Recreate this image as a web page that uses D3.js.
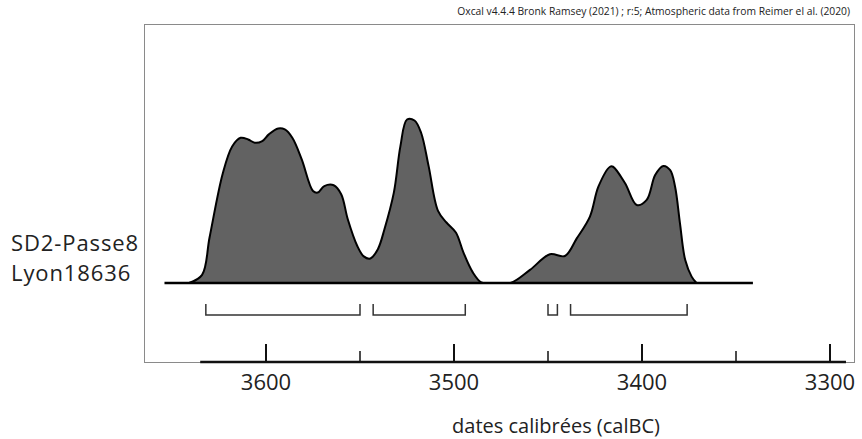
<!DOCTYPE html>
<html>
<head>
<meta charset="utf-8">
<script src="https://cdn.jsdelivr.net/npm/d3@7"></script>
<style>
  html, body { margin: 0; padding: 0; background: #fff; }
  svg { display: block; }
  text { font-family: "Open Sans", "Noto Sans", sans-serif; fill: #222; }
</style>
</head>
<body>
<svg id="chart" width="862" height="439"></svg>
<script>
// ---- data (calendar years BC and relative probability) ----
const years = [3641, 3634, 3630, 3623, 3618, 3613.5, 3609.5, 3606, 3602, 3598.5, 3593.5, 3590, 3586, 3581, 3575, 3572.5, 3569, 3564, 3560, 3556.5, 3551.5, 3548, 3544.5, 3540.5, 3537, 3532, 3528.5, 3525, 3521, 3517.5, 3513.5, 3508.5, 3504, 3499, 3495, 3490, 3485.5, 3481,
               3470, 3459.6, 3449, 3441, 3434.7, 3427.7, 3423.2, 3417, 3415.4, 3409, 3402.8, 3397.5, 3393, 3388.7, 3385, 3382.4, 3379.8, 3377, 3373.6, 3371];
const probability = [0, 5, 28, 67, 83.5, 88.8, 87.8, 85.8, 86.8, 90.9, 94.5, 93.9, 88.8, 75.6, 56.3, 55.3, 59.3, 59.8, 54.3, 39, 22.8, 16.3, 15, 20.7, 32.9, 55.3, 83.7, 100, 99.4, 91.9, 71.5, 44.1, 37, 30.9, 18.7, 6.5, 0.4, 0,
                     0, 8, 17.6, 16.5, 27.3, 40.6, 58.9, 71.1, 71.1, 61, 47.7, 50.8, 66, 71.6, 69, 58.9, 36.5, 14, 3.9, 0];
const rangeStarts = [3632, 3543, 3450, 3438];
const rangeEnds   = [3550, 3494, 3445, 3376];
const majorTicks = [3600, 3500, 3400, 3300];
const minorTicks = [3550, 3450, 3350];
const sampleLabels = ["SD2-Passe8", "Lyon18636"];
const baselineExtent = [3654, 3341];
const axisExtent = [3635, 3291.5];
const creditText = "Oxcal v4.4.4 Bronk Ramsey (2021) ; r:5; Atmospheric data from Reimer el al. (2020)";
const axisTitle = "dates calibrées (calBC)";

const svg = d3.select("#chart");

const x = d3.scaleLinear().domain([3600, 3300]).range([266, 830]);
const y = d3.scaleLinear().domain([0, 100]).range([283, 119.5]);

// clip so the smoothed curve never dips under the baseline
svg.append("defs").append("clipPath").attr("id", "above")
  .append("rect").attr("x", 0).attr("y", 0)
  .attr("width", 862).attr("height", y(0));

// frame
svg.append("rect")
  .attr("x", 144.5).attr("y", 24.5)
  .attr("width", 710).attr("height", 338)
  .attr("fill", "none").attr("stroke", "#8a8a8a").attr("stroke-width", 1);

// credit
svg.append("text")
  .attr("x", 850).attr("y", 15)
  .attr("text-anchor", "end")
  .style("font-size", "10.3px")
  .text(creditText);

// density
const pts = years.map((yr, i) => ({ yr, p: probability[i] }));
const curve = d3.curveCatmullRom.alpha(0.5);
const area = d3.area()
  .x(d => x(d.yr)).y0(y(0)).y1(d => y(d.p))
  .curve(curve);
const line = d3.line()
  .x(d => x(d.yr)).y(d => y(d.p))
  .curve(curve);

const dens = svg.append("g").attr("clip-path", "url(#above)");
dens.append("path").datum(pts)
  .attr("d", area)
  .attr("fill", "#626262");
dens.append("path").datum(pts)
  .attr("d", line)
  .attr("fill", "none").attr("stroke", "#000").attr("stroke-width", 2)
  .attr("stroke-linejoin", "round");

// baseline
svg.append("line")
  .attr("x1", x(baselineExtent[0])).attr("x2", x(baselineExtent[1]))
  .attr("y1", y(0)).attr("y2", y(0))
  .attr("stroke", "#000").attr("stroke-width", 2.5);

// range brackets
const bTop = 304, bBot = 315;
rangeStarts.forEach((s, i) => {
  const x1 = x(s), x2 = x(rangeEnds[i]);
  svg.append("path")
    .attr("d", `M${x1},${bTop}V${bBot}H${x2}V${bTop}`)
    .attr("fill", "none").attr("stroke", "#333").attr("stroke-width", 1.5);
});

// axis
const axisY = 362;
svg.append("line")
  .attr("x1", x(axisExtent[0])).attr("x2", x(axisExtent[1]))
  .attr("y1", axisY).attr("y2", axisY)
  .attr("stroke", "#111").attr("stroke-width", 2.5);

svg.selectAll(".major").data(majorTicks).enter().append("line")
  .attr("x1", d => x(d)).attr("x2", d => x(d))
  .attr("y1", axisY - 18).attr("y2", axisY)
  .attr("stroke", "#111").attr("stroke-width", 2);

svg.selectAll(".minor").data(minorTicks).enter().append("line")
  .attr("x1", d => x(d)).attr("x2", d => x(d))
  .attr("y1", axisY - 11).attr("y2", axisY)
  .attr("stroke", "#111").attr("stroke-width", 1.5);

svg.selectAll(".tl").data(majorTicks).enter().append("text")
  .attr("x", d => x(d)).attr("y", 390)
  .attr("text-anchor", "middle")
  .style("font-size", "22px")
  .text(d => d);

// axis title
svg.append("text")
  .attr("x", 556).attr("y", 433)
  .attr("text-anchor", "middle")
  .style("font-size", "20px")
  .text(axisTitle);

// sample labels
sampleLabels.forEach((t, i) => {
  svg.append("text")
    .attr("x", 11).attr("y", 251 + i * 30)
    .style("font-size", "22px")
    .style("letter-spacing", "0.9px")
    .text(t);
});
</script>
</body>
</html>
